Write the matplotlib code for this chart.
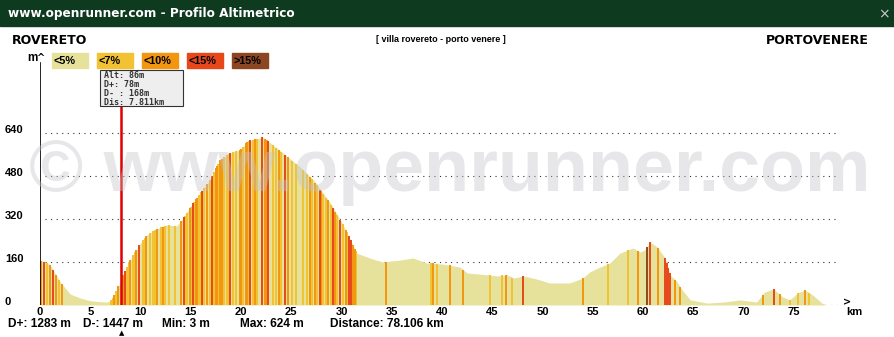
import numpy as np
import matplotlib
matplotlib.use("Agg")
import matplotlib.pyplot as plt
from matplotlib.patches import Rectangle

## profile data (km, m)
dist_km = [0.0, 0.2, 1.0, 2.0, 3.0, 4.0, 5.0, 6.0, 6.7, 7.2, 8.0, 9.0, 10.0, 10.6, 11.6,
           12.6, 13.6, 14.1, 14.9, 15.2, 16.9, 17.9, 18.9, 19.9, 20.7, 21.5, 22.2, 22.9,
           24.2, 25.9, 27.2, 28.9, 29.9, 30.8, 31.5, 32.8, 34.1, 35.8, 37.1, 38.5, 40.1,
           41.8, 42.5, 43.8, 45.5, 46.5, 47.1, 48.1, 49.4, 50.7, 52.7, 54.0, 54.7, 55.7,
           56.7, 57.7, 59.0, 59.7, 60.2, 60.7, 61.4, 62.2, 62.7, 63.4, 63.9, 64.7, 66.4,
           68.0, 69.7, 71.3, 72.1, 73.0, 73.9, 74.6, 75.4, 76.1, 76.9, 77.8, 78.106]
elev_m = [160, 165, 150, 86, 41, 26, 16, 12, 11, 19, 86, 167, 230, 260, 283,
          298, 294, 316, 360, 379, 465, 539, 565, 577, 610, 618, 624, 603,
          565, 513, 465, 379, 316, 249, 193, 175, 160, 167, 175, 156, 152,
          141, 119, 115, 108, 112, 100, 108, 97, 82, 82, 100, 123, 141,
          156, 193, 212, 197, 205, 234, 216, 175, 112, 86, 56, 19, 7,
          11, 19, 11, 48, 60, 30, 19, 45, 56, 37, 7, 3]

## slope stripes (km) per gradient class
stripes_7 = [0.7, 1.9, 7.1, 7.3, 7.6, 8.7, 8.9, 9.3, 9.5, 10.2, 10.4, 10.9, 11.2, 11.4,
             12.0, 12.4, 12.8, 13.4, 14.4, 14.6, 15.0, 15.3, 15.8, 16.0, 16.3, 16.9,
             17.3, 17.7, 18.3, 18.6, 18.8, 19.2, 19.5, 20.2, 20.8, 21.2, 21.6, 22.6,
             23.2, 23.5, 24.0, 25.1, 25.5, 26.2, 26.6, 27.1, 27.6, 28.2, 28.5, 29.0,
             29.6, 30.1, 30.5, 31.4, 38.9, 39.5, 44.8, 46.0, 47.0, 56.5, 58.5, 74.6,
             75.4, 76.5]
stripes_10 = [0.1, 1.0, 1.6, 2.2, 7.4, 7.8, 8.3, 9.0, 9.6, 10.5, 11.6, 12.2, 14.0,
              14.9, 15.5, 15.6, 16.6, 17.5, 17.6, 17.9, 18.1, 19.9, 20.0, 20.5, 20.6,
              21.4, 22.4, 22.5, 23.8, 24.7, 26.9, 27.4, 28.0, 28.7, 29.4, 30.4, 31.1,
              31.3, 34.4, 39.1, 40.8, 42.1, 46.4, 54.0, 59.5, 61.5, 63.2, 63.7, 71.9,
              73.6, 76.1]
stripes_15 = [0.4, 1.3, 8.5, 9.9, 14.3, 15.2, 16.1, 17.1, 18.9, 20.9, 22.1, 22.7,
              24.4, 27.9, 29.2, 29.9, 30.7, 30.9, 48.1, 60.7, 62.2, 62.35, 62.5, 62.65,
              73.0]
stripes_over = [60.4]

stats = ["D+: 1283 m", "D-: 1447 m", "Min: 3 m", "Max: 624 m", "Distance: 78.106 km"]
legend_labels = ["<5%", "<7%", "<10%", "<15%", ">15%"]
yticks = [0, 160, 320, 480, 640]
xticks = list(range(0, 80, 5))
cursor_km = 8.1
tooltip = ["Alt: 86m", "D+: 78m", "D- : 168m", "Dis: 7.811km"]

colors = ["#E6E29C", "#F2C232", "#F2950F", "#E8471A", "#8C4622"]

W, H = 895, 337
fig = plt.figure(figsize=(W/100, H/100), dpi=100)
fig.patch.set_facecolor("white")

def fx(px):
    return px/W
def fy(py):
    return 1 - py/H

# header bar
fig.patches.append(Rectangle((0, fy(26)), 1, 26/H, transform=fig.transFigure,
                             color="#0E3A1F", zorder=0))
fig.text(fx(8), fy(13), "www.openrunner.com - Profilo Altimetrico", color="white",
         fontsize=8.7, weight="bold", family="DejaVu Sans", va="center")
fig.text(fx(884), fy(14), "×", color="#cccccc", fontsize=10, ha="center", va="center")

fig.text(fx(12), fy(40), "ROVERETO", fontsize=9, weight="bold", family="DejaVu Sans", va="center")
fig.text(fx(441), fy(40), "[ villa rovereto - porto venere ]", fontsize=6.5, weight="bold",
         family="Liberation Sans", ha="center", va="center")
fig.text(fx(869), fy(40), "PORTOVENERE", fontsize=9, weight="bold", family="DejaVu Sans",
         ha="right", va="center")

# legend boxes
for i, (lab, c) in enumerate(zip(legend_labels, colors)):
    x0 = 52 + i*45
    fig.patches.append(Rectangle((fx(x0), fy(68)), 36/W, 15/H, transform=fig.transFigure,
                                 color=c, zorder=1))
    fig.text(fx(x0+2), fy(61), lab, fontsize=7.8, weight="bold", family="Liberation Sans",
             va="center")

# main axes: km 0 at px 40, 10.05 px/km; 0 m at py 305, 3.72 m/px
left, right, bottom, top = 40, 850, 305, 55
ax = fig.add_axes([fx(left), fy(bottom), (right-left)/W, (bottom-top)/H])
ax.set_xlim(0, (right-left)/10.05)
ax.set_ylim(0, (bottom-top)*3.72)
ax.axis("off")

d = np.array(dist_km)
e = np.array(elev_m)
for yt in yticks[1:]:
    ax.plot([0.5, 79.5], [yt, yt], ls=(0, (1, 4)), color="#333333", lw=0.8, zorder=1)
ax.fill_between(d, 0, e, color=colors[0], lw=0, zorder=2)

for lst, c in zip([stripes_7, stripes_10, stripes_15, stripes_over], colors[1:]):
    k = np.array(lst)
    ax.vlines(k, 0, np.interp(k, d, e), colors=c, lw=1.4, zorder=3)

ax.plot([0, 0], [0, 900], color="black", lw=1.2, zorder=5)
ax.plot([d[-1], 80.3], [0, 0], ls=(0, (1, 4)), color="#333333", lw=0.8, zorder=5)
fig.text(fx(847), fy(302), ">", fontsize=7, weight="bold", va="center", ha="center")
fig.text(fx(846), fy(312), "km", fontsize=8, weight="bold", family="Liberation Sans", va="center")
fig.text(fx(27), fy(58), "m", fontsize=8.5, weight="bold", family="Liberation Sans", va="center")
fig.text(fx(40), fy(58), "^", fontsize=7, weight="bold", va="center", ha="center")

for yt in yticks:
    fig.text(fx(5), fy(bottom - yt/3.72 - 3), str(yt), fontsize=8, weight="bold",
             family="Liberation Sans", va="center")
for xt in xticks:
    fig.text(fx(left + xt*10.05), fy(312), str(xt), fontsize=8, weight="bold",
             family="Liberation Sans", ha="center", va="center")

# cursor and tooltip
ax.plot([cursor_km, cursor_km], [0, (bottom-106)*3.72], color="#E00000", lw=1.8, zorder=6)
fig.patches.append(Rectangle((fx(100), fy(106)), 83/W, 36/H, transform=fig.transFigure,
                             facecolor="#EEEEEE", edgecolor="#333333", lw=0.8, zorder=7))
for i, t in enumerate(tooltip):
    fig.text(fx(104), fy(76 + i*8.8), t, fontsize=6, family="DejaVu Sans Mono",
             weight="bold", color="#333333", va="center", zorder=8)
fig.text(fx(left + cursor_km*10.05), fy(333), "▲", fontsize=5, ha="center", va="center",
         family="DejaVu Sans")

# bottom stats
stat_x = [8, 83, 162, 240, 330]
for x, s in zip(stat_x, stats):
    fig.text(fx(x), fy(324), s, fontsize=8.6, weight="bold", family="Liberation Sans",
             va="center")

# watermark
fig.text(fx(450), fy(172), "© www.openrunner.com", fontsize=53, weight="bold",
         family="Liberation Sans", color="#C4C4CC", alpha=0.4, ha="center", va="center",
         zorder=10)

fig.savefig("out.png", dpi=100)
